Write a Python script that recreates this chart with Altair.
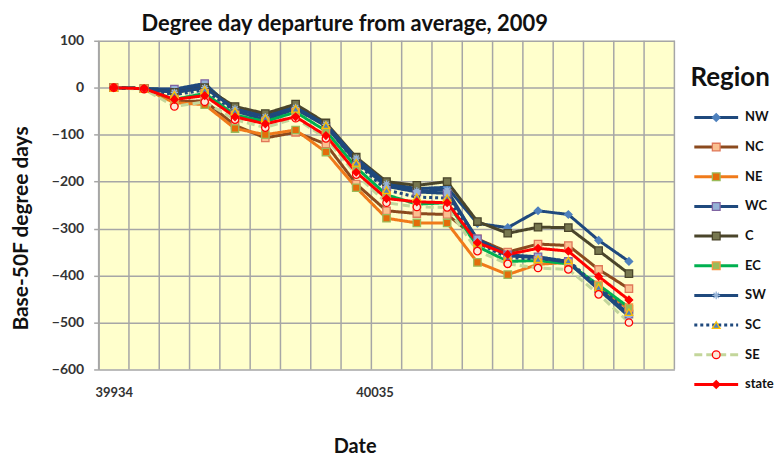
import altair as alt
import pandas as pd
import numpy as np

regions = ["NW", "NC", "NE", "WC", "C", "EC", "SW", "SC", "SE", "state"]

# departure values at each of the 18 dates
NW = [0, -2, -5, 5, -45, -60, -40, -80, -152, -203, -215, -212, -289, -298, -262, -270, -325, -370]
NC = [0, -2, -30, -28, -80, -107, -95, -120, -205, -262, -268, -270, -322, -350, -333, -336, -387, -428]
NE = [0, -2, -32, -36, -87, -100, -90, -137, -213, -278, -288, -288, -372, -398, -376, -372, -425, -472]
WC = [0, -2, -3, 9, -50, -68, -45, -82, -158, -210, -222, -225, -322, -356, -360, -370, -428, -482]
C = [0, -2, -10, 0, -40, -55, -35, -75, -148, -200, -208, -200, -285, -310, -297, -298, -347, -396]
EC = [0, -2, -25, -12, -58, -72, -52, -92, -170, -228, -248, -245, -338, -370, -368, -375, -420, -468]
SW = [0, -2, -10, 0, -45, -62, -42, -78, -150, -205, -220, -218, -325, -358, -362, -372, -430, -487]
SC = [0, -2, -15, -5, -50, -65, -45, -80, -160, -218, -233, -235, -330, -362, -365, -368, -425, -478]
SE = [0, -3, -40, -30, -68, -85, -65, -108, -185, -245, -254, -255, -348, -375, -384, -387, -440, -500]
state = [0, -2, -25, -17, -62, -77, -62, -102, -180, -236, -243, -245, -330, -355, -342, -348, -402, -452]
series = [NW, NC, NE, WC, C, EC, SW, SC, SE, state]

n_slots = 19  # category slots on the date axis (last one empty)
x_tick_pos = [0, 8.6]
x_tick_labels = ["39934", "40035"]
y_ticks = [-600, -500, -400, -300, -200, -100, 0, 100]
title_text = "Degree day departure from average, 2009"

line_colors = ["#1F497D", "#8B4A1E", "#F07A1A", "#1F497D", "#4A452A",
               "#00B050", "#1F497D", "#1F497D", "#C3D69B", "#FF0000"]
marker_fill = ["#4F81BD", "#FAC090", "#E46C0A", "#95B3D7", "#77774F",
               "#9BBB59", "#95B3D7", "#4F81BD", "#FDE9D9", "#FF0000"]
marker_stroke = ["#4F81BD", "#E0785A", "#9BBB59", "#8064A2", "#4A452A",
                 "#F79646", "#95B3D7", "#FFC000", "#FF0000", "#FF0000"]
asterisk = "M-1,0L1,0M0,-1L0,1M-0.7,-0.7L0.7,0.7M-0.7,0.7L0.7,-0.7"
shapes = ["diamond", "square", "square", "square", "square",
          "square", asterisk, "triangle-up", "circle", "diamond"]
dashes = [[1, 0], [1, 0], [1, 0], [1, 0], [1, 0],
          [1, 0], [1, 0], [3, 3], [8, 4], [1, 0]]

rows = []
for r, vals in zip(regions, series):
    for i, v in enumerate(vals):
        rows.append({"region": r, "i": i, "v": v})
df = pd.DataFrame(rows)

FONT = "Lato"
GRID = "#A6A6A6"

label_expr = "'" + x_tick_labels[-1] + "'"
for pos, lab in zip(reversed(x_tick_pos[:-1]), reversed(x_tick_labels[:-1])):
    label_expr = f"abs(datum.value - {pos}) < 0.01 ? '{lab}' : " + label_expr

x_scale = alt.Scale(domain=[-0.5, n_slots - 0.5], nice=False, zero=False)
y_scale = alt.Scale(domain=[-600, 100], nice=False)

col_scale = alt.Scale(domain=regions, range=line_colors)
fill_scale = alt.Scale(domain=regions, range=marker_fill)
stroke_scale = alt.Scale(domain=regions, range=marker_stroke)
shape_scale = alt.Scale(domain=regions, range=shapes)
dash_scale = alt.Scale(domain=regions, range=dashes)

x_enc = alt.X("i:Q", scale=x_scale, axis=alt.Axis(
    values=x_tick_pos, labelExpr=label_expr, grid=False, ticks=False, domain=False,
    labelFont=FONT, labelFontSize=13, labelFontWeight="bold", labelColor="#333333",
    labelPadding=17, title="Date", titleFont=FONT, titleFontSize=20,
    titleFontWeight="bold", titleColor="#111111", titleX=257, titleY=77,
    titleBaseline="middle", titleAnchor="middle"))
y_enc = alt.Y("v:Q", scale=y_scale, axis=alt.Axis(
    values=y_ticks, grid=True, gridColor=GRID, gridWidth=1.5,
    domainColor=GRID, domainWidth=1.5, tickColor=GRID, tickSize=5, tickWidth=1.5,
    labelFont=FONT, labelFontSize=14, labelFontWeight="bold", labelColor="#333333",
    labelPadding=10, title="Base-50F degree days", titleFont=FONT, titleFontSize=21,
    titleFontWeight="bold", titleColor="#111111", titlePadding=20, titleY=188,
    titleAnchor="middle"))

bounds_df = pd.DataFrame({"b": np.arange(0, n_slots + 1) - 0.5})
vgrid = alt.Chart(bounds_df).mark_rule(color=GRID, strokeWidth=1.5).encode(
    x=alt.X("b:Q", scale=x_scale))

lines = alt.Chart(df).mark_line(strokeWidth=3).encode(
    x=x_enc, y=y_enc,
    color=alt.Color("region:N", scale=col_scale, legend=None),
    strokeDash=alt.StrokeDash("region:N", scale=dash_scale, legend=None),
)
points = alt.Chart(df).mark_point(filled=True, size=55, strokeWidth=1.3, opacity=1).encode(
    x="i:Q", y="v:Q",
    shape=alt.Shape("region:N", scale=shape_scale, legend=None),
    fill=alt.Fill("region:N", scale=fill_scale, legend=None),
    stroke=alt.Stroke("region:N", scale=stroke_scale, legend=None),
)
title_mark = alt.Chart(pd.DataFrame({"t": [title_text]})).mark_text(
    align="center", baseline="middle", font=FONT, fontSize=22, fontWeight="bold",
    color="#111111").encode(x=alt.value(247), y=alt.value(-17), text="t:N")

main = alt.layer(vgrid, lines, points, title_mark).properties(
    width=578, height=330, view=alt.ViewBackground(fill="#FFFFCC", stroke=None))

leg_df = pd.DataFrame({"region": regions, "slot": list(range(len(regions)))})
ly = alt.Y("slot:Q", scale=alt.Scale(domain=[0, len(regions) - 1], range=[77, 345],
                                     nice=False, zero=False), axis=None)
leg_line = alt.Chart(leg_df).mark_rule(strokeWidth=3).encode(
    x=alt.value(11), x2=alt.value(55), y=ly,
    color=alt.Color("region:N", scale=col_scale, legend=None),
    strokeDash=alt.StrokeDash("region:N", scale=dash_scale, legend=None))
leg_pt = alt.Chart(leg_df).mark_point(filled=True, size=60, strokeWidth=1.3, opacity=1).encode(
    x=alt.value(33), y=ly,
    shape=alt.Shape("region:N", scale=shape_scale, legend=None),
    fill=alt.Fill("region:N", scale=fill_scale, legend=None),
    stroke=alt.Stroke("region:N", scale=stroke_scale, legend=None))
leg_txt = alt.Chart(leg_df).mark_text(align="left", baseline="middle", font=FONT,
                                      fontSize=13, fontWeight="bold", color="#111111").encode(
    x=alt.value(62), y=ly, text="region:N")
leg_title = alt.Chart(pd.DataFrame({"t": ["Region"]})).mark_text(
    align="center", baseline="middle", font=FONT, fontSize=26, fontWeight="bold",
    color="#111111").encode(x=alt.value(47), y=alt.value(37), text="t:N")
legend = alt.layer(leg_line, leg_pt, leg_txt, leg_title).properties(
    width=80, height=330, view=alt.ViewBackground(fill="white", stroke=None))

chart = alt.hconcat(main, legend, spacing=8).resolve_scale(
    x="independent", y="independent"
).properties(
    padding={"left": 2, "top": 4, "right": 0, "bottom": 0},
    background="white",
).configure_view(stroke=None)

chart.save("out.html", embed_options={"renderer": "svg", "actions": False})
